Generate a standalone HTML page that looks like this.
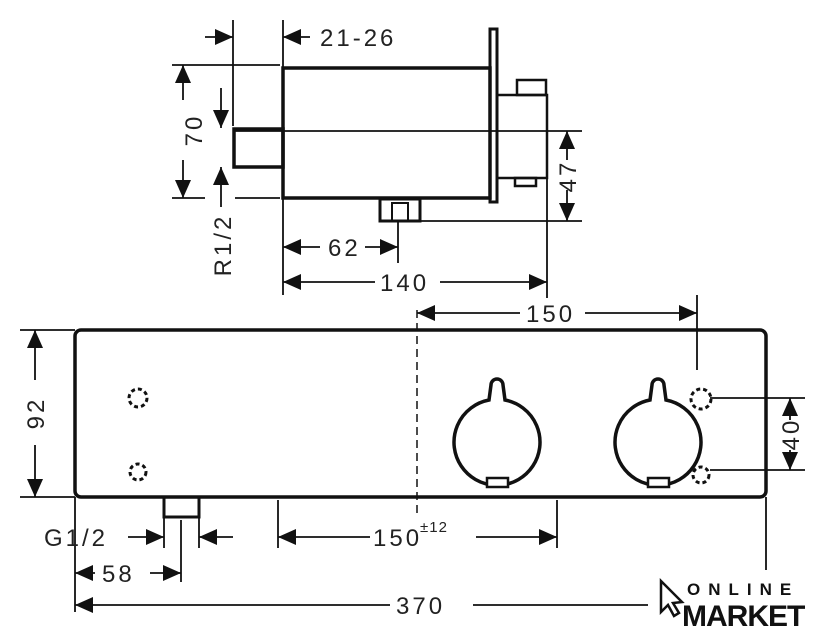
<!DOCTYPE html>
<html><head><meta charset="utf-8"><style>
html,body{margin:0;padding:0;background:#fff;}
svg{display:block;}
text{font-family:"Liberation Sans",sans-serif;font-size:24px;fill:#222;letter-spacing:3px;}
</style></head><body>
<svg width="827" height="640" viewBox="0 0 827 640" xmlns="http://www.w3.org/2000/svg">
<defs>
<marker id="a" viewBox="0 0 18 16" refX="18" refY="8" markerWidth="18" markerHeight="16" markerUnits="userSpaceOnUse" orient="auto"><path d="M0,0L18,8L0,16z" fill="#111"/></marker>
</defs>
<g stroke="#111" fill="none">
<rect x="283" y="68" width="207" height="130" stroke-width="3.5"/>
<rect x="490" y="29" width="7" height="173" stroke-width="3"/>
<rect x="497" y="95" width="50" height="83" stroke-width="2.5"/>
<rect x="517" y="80" width="29" height="15" stroke-width="2.5"/>
<rect x="515" y="178" width="21" height="8" stroke-width="2.5"/>
<rect x="234" y="129" width="49" height="38" stroke-width="3.5"/>
<rect x="380" y="199" width="40" height="22" stroke-width="3"/>
<rect x="392" y="203" width="16" height="18" stroke-width="2"/>
<g stroke-width="1.8">
<line x1="234" y1="131" x2="582" y2="131"/>
<line x1="420" y1="221" x2="582" y2="221"/>
<line x1="233" y1="20" x2="233" y2="126"/>
<line x1="283" y1="20" x2="283" y2="295"/>
<line x1="172" y1="65" x2="280" y2="65"/>
<line x1="172" y1="198" x2="205" y2="198"/>
<line x1="235" y1="198" x2="280" y2="198"/>
<line x1="547" y1="178" x2="547" y2="298"/>
<line x1="398" y1="221" x2="398" y2="263"/>
<line x1="205" y1="37" x2="233" y2="37" marker-end="url(#a)"/>
<line x1="310" y1="37" x2="283" y2="37" marker-end="url(#a)"/>
<line x1="183" y1="100" x2="183" y2="65" marker-end="url(#a)"/>
<line x1="183" y1="160" x2="183" y2="198" marker-end="url(#a)"/>
<line x1="221" y1="88" x2="221" y2="128" marker-end="url(#a)"/>
<line x1="221" y1="207" x2="221" y2="167" marker-end="url(#a)"/>
<line x1="567" y1="160" x2="567" y2="131" marker-end="url(#a)"/>
<line x1="567" y1="190" x2="567" y2="221" marker-end="url(#a)"/>
<line x1="320" y1="247" x2="283" y2="247" marker-end="url(#a)"/>
<line x1="365" y1="247" x2="398" y2="247" marker-end="url(#a)"/>
<line x1="375" y1="282" x2="283" y2="282" marker-end="url(#a)"/>
<line x1="440" y1="282" x2="547" y2="282" marker-end="url(#a)"/>
</g>
<rect x="75" y="330" width="691" height="167" rx="6" stroke-width="3.5"/>
<line x1="417" y1="310" x2="417" y2="515" stroke-width="1.5" stroke-dasharray="8,5"/>
<g stroke-width="3.5">
<path d="M489,400 A43,43 0 1 0 505,400 L503,385 A6,6 0 0 0 491,385 Z"/>
<path d="M650,400 A43,43 0 1 0 666,400 L664,385 A6,6 0 0 0 652,385 Z"/>
<rect x="487" y="478" width="21" height="9" stroke-width="2.5" fill="#fff"/>
<rect x="648" y="478" width="21" height="9" stroke-width="2.5" fill="#fff"/>
</g>
<g stroke-width="3" stroke-dasharray="4,3">
<circle cx="138" cy="398" r="9"/><circle cx="138" cy="472" r="8"/>
<circle cx="701" cy="399" r="10"/><circle cx="701" cy="475" r="8"/>
</g>
<rect x="164" y="497" width="35" height="20" stroke-width="3"/>
<g stroke-width="1.8">
<line x1="697" y1="295" x2="697" y2="370"/>
<line x1="710" y1="398" x2="805" y2="398"/>
<line x1="710" y1="470" x2="805" y2="470"/>
<line x1="20" y1="330" x2="75" y2="330"/>
<line x1="20" y1="497" x2="75" y2="497"/>
<line x1="164" y1="517" x2="164" y2="548"/>
<line x1="199" y1="517" x2="199" y2="548"/>
<line x1="181" y1="520" x2="181" y2="582"/>
<line x1="278" y1="500" x2="278" y2="548"/>
<line x1="557" y1="500" x2="557" y2="548"/>
<line x1="75" y1="497" x2="75" y2="612"/>
<line x1="766" y1="497" x2="766" y2="570"/>
<line x1="520" y1="313" x2="417" y2="313" marker-end="url(#a)"/>
<line x1="585" y1="313" x2="697" y2="313" marker-end="url(#a)"/>
<line x1="790" y1="420" x2="790" y2="398" marker-end="url(#a)"/>
<line x1="790" y1="450" x2="790" y2="470" marker-end="url(#a)"/>
<line x1="35" y1="380" x2="35" y2="330" marker-end="url(#a)"/>
<line x1="35" y1="445" x2="35" y2="497" marker-end="url(#a)"/>
<line x1="128" y1="537" x2="164" y2="537" marker-end="url(#a)"/>
<line x1="233" y1="537" x2="199" y2="537" marker-end="url(#a)"/>
<line x1="370" y1="537" x2="278" y2="537" marker-end="url(#a)"/>
<line x1="476" y1="537" x2="557" y2="537" marker-end="url(#a)"/>
<line x1="95" y1="573" x2="75" y2="573" marker-end="url(#a)"/>
<line x1="150" y1="573" x2="181" y2="573" marker-end="url(#a)"/>
<line x1="390" y1="605" x2="75" y2="605" marker-end="url(#a)"/>
<line x1="473" y1="605" x2="648" y2="605"/>
</g>
<path d="M661,581 L661,612 L668,605 L674,616 L679,613 L673,603 L682,602 Z" stroke-width="2.5"/>
</g>
<text x="320" y="46">21-26</text>
<text x="328" y="256">62</text>
<text x="380" y="291">140</text>
<text x="526" y="322">150</text>
<text x="373" y="546">150</text><text x="420" y="532" style="font-size:15px;letter-spacing:1px">±12</text>
<text x="44" y="546">G1/2</text>
<text x="102" y="582">58</text>
<text x="396" y="614">370</text>
<text transform="translate(202,130) rotate(-90)" text-anchor="middle">70</text>
<text transform="translate(231,245) rotate(-90)" text-anchor="middle">R1/2</text>
<text transform="translate(576,176) rotate(-90)" text-anchor="middle">47</text>
<text transform="translate(44,413) rotate(-90)" text-anchor="middle">92</text>
<text transform="translate(799,434) rotate(-90)" text-anchor="middle">40</text>
<text x="687" y="595" style="font-size:17px;font-weight:bold;letter-spacing:8px;fill:#111">ONLINE</text>
<text x="682" y="626" style="font-size:30px;font-weight:bold;letter-spacing:-1px;fill:#111">MARKET</text>
</svg>
</body></html>
